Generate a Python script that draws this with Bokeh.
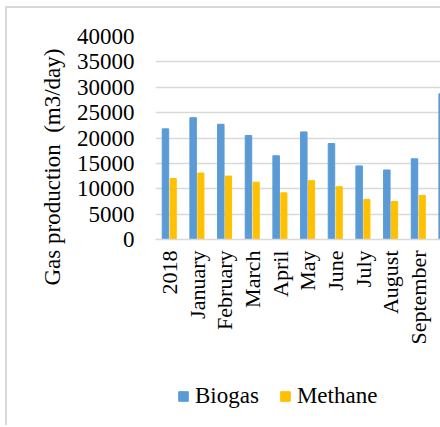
import numpy as np
from bokeh.plotting import figure
from bokeh.layouts import column
from bokeh.models import (ColumnDataSource, Range1d, FixedTicker,
                          Legend, LegendItem, Title)
from bokeh.transform import dodge
from bokeh.embed import file_html
from bokeh.resources import INLINE

categories = ["2018", "January", "February", "March", "April", "May", "June",
              "July", "August", "September", "October"]
biogas = [21800, 24000, 22700, 20500, 16500, 21200, 18900, 14500, 13700, 15900, 28700]
methane = [12000, 13100, 12500, 11300, 9200, 11600, 10400, 7900, 7500, 8700]
y_ticks = [0, 5000, 10000, 15000, 20000, 25000, 30000, 35000, 40000]
series = ["Biogas", "Methane"]
colors = ["#5B9BD5", "#FFC000"]
y_title = "Gas production\u00a0\u00a0(m3/day)"

FONT = "Liberation Serif"
n = len(categories)
xs = [i + 0.5 for i in range(n)]

src_b = ColumnDataSource(dict(x=xs, top=biogas))
src_m = ColumnDataSource(dict(x=xs[:len(methane)], top=methane))

p = figure(width=433, height=367, output_backend="svg", toolbar_location=None,
           x_range=Range1d(0, 10.30), y_range=Range1d(0, 40000),
           min_border_left=148, min_border_right=0, min_border_top=28,
           min_border_bottom=136)
p.outline_line_color = None
p.background_fill_color = "white"
p.border_fill_color = "white"

rb = p.vbar(x=dodge("x", -0.14, range=p.x_range), top="top", width=0.235,
            source=src_b, color=colors[0])
rm = p.vbar(x=dodge("x", 0.14, range=p.x_range), top="top", width=0.22,
            source=src_m, color=colors[1])

# x axis
p.xaxis.ticker = FixedTicker(ticks=xs)
p.xaxis.major_label_overrides = {x: c for x, c in zip(xs, categories)}
p.xaxis.major_label_orientation = np.pi / 2
p.xaxis.major_label_text_font = FONT
p.xaxis.major_label_text_font_size = "22px"
p.xaxis.major_label_text_color = "black"
p.xaxis.major_label_standoff = 11
p.xaxis.major_tick_out = 0
p.xaxis.major_tick_in = 0
p.xaxis.major_tick_line_color = None
p.xaxis.minor_tick_line_color = None
p.xaxis.axis_line_color = "#d9d9d9"
p.xaxis.axis_line_width = 1.5

# y axis
p.yaxis.ticker = FixedTicker(ticks=y_ticks)
p.yaxis.major_label_text_font = FONT
p.yaxis.major_label_text_font_size = "23px"
p.yaxis.major_label_text_color = "black"
p.yaxis.major_label_standoff = 21
p.yaxis.major_tick_out = 0
p.yaxis.major_tick_in = 0
p.yaxis.major_tick_line_color = None
p.yaxis.minor_tick_line_color = None
p.yaxis.axis_line_color = None

# y axis title (side title so that it can be offset along the axis)
p.add_layout(Title(text=y_title, align="left", offset=-46, standoff=18,
                   text_font=FONT, text_font_size="23px",
                   text_font_style="normal", text_color="black"), "left")

p.xgrid.grid_line_color = None
p.ygrid.ticker = FixedTicker(ticks=y_ticks)
p.ygrid.grid_line_color = "#d9d9d9"
p.ygrid.grid_line_width = 1.5

# legend strip
p2 = figure(width=433, height=50, output_backend="svg", toolbar_location=None,
            x_range=Range1d(0, 1), y_range=Range1d(0, 1),
            x_axis_location=None, y_axis_location=None,
            min_border_left=0, min_border_right=0, min_border_top=0,
            min_border_bottom=0)
p2.outline_line_color = None
p2.xgrid.grid_line_color = None
p2.ygrid.grid_line_color = None
lr = [p2.vbar(x=[5], top=[1], width=0.1, color=c) for c in colors]
legend = Legend(items=[LegendItem(label=s, renderers=[r]) for s, r in zip(series, lr)],
                location=(22, 16), orientation="horizontal",
                glyph_width=12, glyph_height=12, label_standoff=6, spacing=20,
                label_height=24, padding=0, margin=0, border_line_color=None,
                background_fill_alpha=0,
                label_text_font=FONT, label_text_font_size="23px",
                label_text_color="black")
p2.add_layout(legend, "center")

layout = column(p, p2, spacing=0,
                styles={"margin-left": "5px", "margin-top": "6px",
                        "border-left": "2px solid #d9d9d9",
                        "border-top": "2px solid #d9d9d9"})

open("out.html", "w").write(file_html(layout, INLINE))
